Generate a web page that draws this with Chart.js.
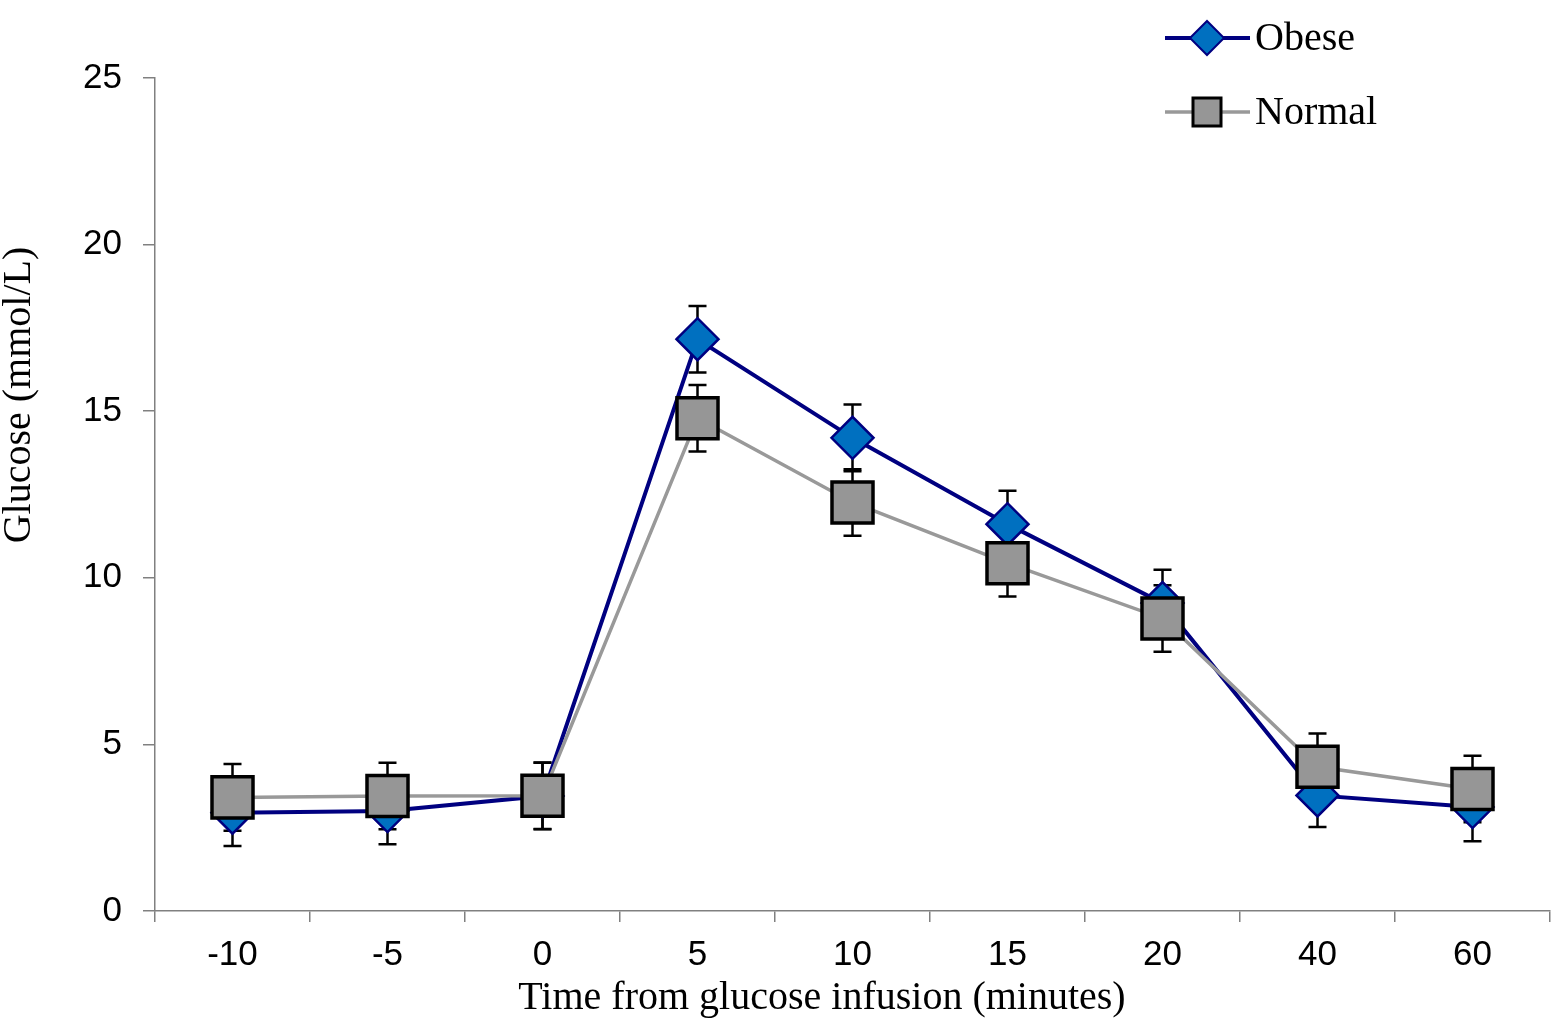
<!DOCTYPE html>
<html>
<head>
<meta charset="utf-8">
<script src="https://cdn.jsdelivr.net/npm/chart.js@4.4.0/dist/chart.umd.min.js"></script>
<style>
  html, body { margin: 0; padding: 0; background: #fff; }
  #wrap { width: 1551px; height: 1020px; }
</style>
</head>
<body>
<div id="wrap"><canvas id="glucose" width="1551" height="1020"></canvas></div>
<script>
// time points (minutes from glucose infusion)
const timeLabels = ['-10', '-5', '0', '5', '10', '15', '20', '40', '60'];

// mean glucose, mmol/L
const obeseValues  = [2.95, 3.0, 3.45, 17.16, 14.2, 11.61, 9.24, 3.47, 3.12];
const normalValues = [3.41, 3.45, 3.46, 14.79, 12.26, 10.44, 8.78, 4.33, 3.66];

// error (SE) for each point
const obeseErr  = [1.0, 1.0, 1.0, 1.0, 1.0, 1.0, 1.0, 0.95, 1.03];
const normalErr = [1.0, 1.0, 1.0, 1.0, 1.0, 1.0, 1.0, 1.0, 1.0];

const yTicks = [0, 5, 10, 15, 20, 25];

const serif = '"Liberation Serif", "Times New Roman", serif';
const sans = '"Liberation Sans", Arial, sans-serif';

// error bars, drawn under the lines and markers
const errorBars = {
    id: 'errorBars',
    beforeDatasetsDraw(chart) {
        const ctx = chart.ctx;
        const yScale = chart.scales.y;
        ctx.save();
        ctx.strokeStyle = '#000';
        ctx.lineWidth = 2.5;
        chart.data.datasets.forEach((ds, i) => {
            const meta = chart.getDatasetMeta(i);
            meta.data.forEach((pt, j) => {
                const v = ds.data[j];
                const e = ds.errors[j];
                const top = yScale.getPixelForValue(v + e);
                const bot = yScale.getPixelForValue(v - e);
                ctx.beginPath();
                ctx.moveTo(pt.x, top);
                ctx.lineTo(pt.x, bot);
                ctx.moveTo(pt.x - 9, top);
                ctx.lineTo(pt.x + 9, top);
                ctx.moveTo(pt.x - 9, bot);
                ctx.lineTo(pt.x + 9, bot);
                ctx.stroke();
            });
        });
        ctx.restore();
    }
};

// x tick labels, axis titles + legend (top right)
const extras = {
    id: 'extras',
    afterDraw(chart) {
        const ctx = chart.ctx;
        const xScale = chart.scales.x;

        ctx.save();
        ctx.fillStyle = '#000';
        ctx.font = '35px ' + sans;
        ctx.textAlign = 'center';
        ctx.textBaseline = 'middle';
        timeLabels.forEach((lab, i) => {
            ctx.fillText(lab, xScale.getPixelForTick(i), 955);
        });

        ctx.font = '40px ' + serif;
        ctx.fillText('Time from glucose infusion (minutes)', 822, 998);

        ctx.translate(19, 395);
        ctx.rotate(-Math.PI / 2);
        ctx.fillText('Glucose (mmol/L)', 0, 0);
        ctx.restore();

        // legend entries
        ctx.save();
        ctx.lineWidth = 4;
        // Obese
        ctx.strokeStyle = '#000080';
        ctx.beginPath();
        ctx.moveTo(1165, 38);
        ctx.lineTo(1250, 38);
        ctx.stroke();
        ctx.beginPath();
        ctx.moveTo(1207 - 17, 38);
        ctx.lineTo(1207, 38 - 17);
        ctx.lineTo(1207 + 17, 38);
        ctx.lineTo(1207, 38 + 17);
        ctx.closePath();
        ctx.fillStyle = '#0070C0';
        ctx.fill();
        ctx.lineWidth = 2;
        ctx.stroke();
        // Normal
        ctx.lineWidth = 3.5;
        ctx.strokeStyle = '#999999';
        ctx.beginPath();
        ctx.moveTo(1165, 112);
        ctx.lineTo(1250, 112);
        ctx.stroke();
        ctx.fillStyle = '#969696';
        ctx.strokeStyle = '#000';
        ctx.lineWidth = 3;
        ctx.fillRect(1193, 98, 28, 28);
        ctx.strokeRect(1193, 98, 28, 28);

        ctx.fillStyle = '#000';
        ctx.font = '40px ' + serif;
        ctx.textAlign = 'left';
        ctx.textBaseline = 'middle';
        ctx.fillText('Obese', 1255, 39);
        ctx.fillText('Normal', 1255, 113);
        ctx.restore();
    }
};

new Chart(document.getElementById('glucose'), {
    type: 'line',
    data: {
        labels: timeLabels,
        datasets: [
            {
                label: 'Normal',
                data: normalValues,
                errors: normalErr,
                borderColor: '#999999',
                borderWidth: 3.5,
                pointStyle: 'rect',
                pointRadius: 29,
                pointHoverRadius: 29,
                pointBackgroundColor: '#969696',
                pointBorderColor: '#000',
                pointBorderWidth: 3.5,
                tension: 0,
                order: 0
            },
            {
                label: 'Obese',
                data: obeseValues,
                errors: obeseErr,
                borderColor: '#000080',
                borderWidth: 4,
                pointStyle: 'rectRot',
                pointRadius: 21,
                pointHoverRadius: 21,
                pointBackgroundColor: '#0070C0',
                pointBorderColor: '#000080',
                pointBorderWidth: 2.5,
                tension: 0,
                order: 1
            }
        ]
    },
    options: {
        responsive: false,
        animation: false,
        events: [],
        // big markers would otherwise push the right edge in
        layout: { autoPadding: false, padding: { top: 78, right: 1, left: 0, bottom: 0 } },
        plugins: {
            legend: { display: false },
            tooltip: { enabled: false }
        },
        scales: {
            x: {
                type: 'category',
                offset: true,
                grid: {
                    offset: true,
                    drawOnChartArea: false,
                    tickLength: 11,
                    color: '#808080',
                    lineWidth: 1.5
                },
                border: { color: '#808080', width: 1.5 },
                // labels drawn by the extras plugin at the scale's tick pixels
                ticks: { display: false },
                afterFit(scale) { scale.height = 109; }
            },
            y: {
                min: 0,
                max: 25,
                afterBuildTicks(scale) {
                    scale.ticks = yTicks.map(v => ({ value: v }));
                },
                grid: {
                    drawOnChartArea: false,
                    tickLength: 12,
                    color: '#808080',
                    lineWidth: 1.5
                },
                border: { color: '#808080', width: 1.5 },
                ticks: {
                    color: '#000',
                    font: { family: sans, size: 35 },
                    padding: 21
                },
                afterFit(scale) { scale.width = 155; }
            }
        }
    },
    plugins: [errorBars, extras]
});
</script>
</body>
</html>
